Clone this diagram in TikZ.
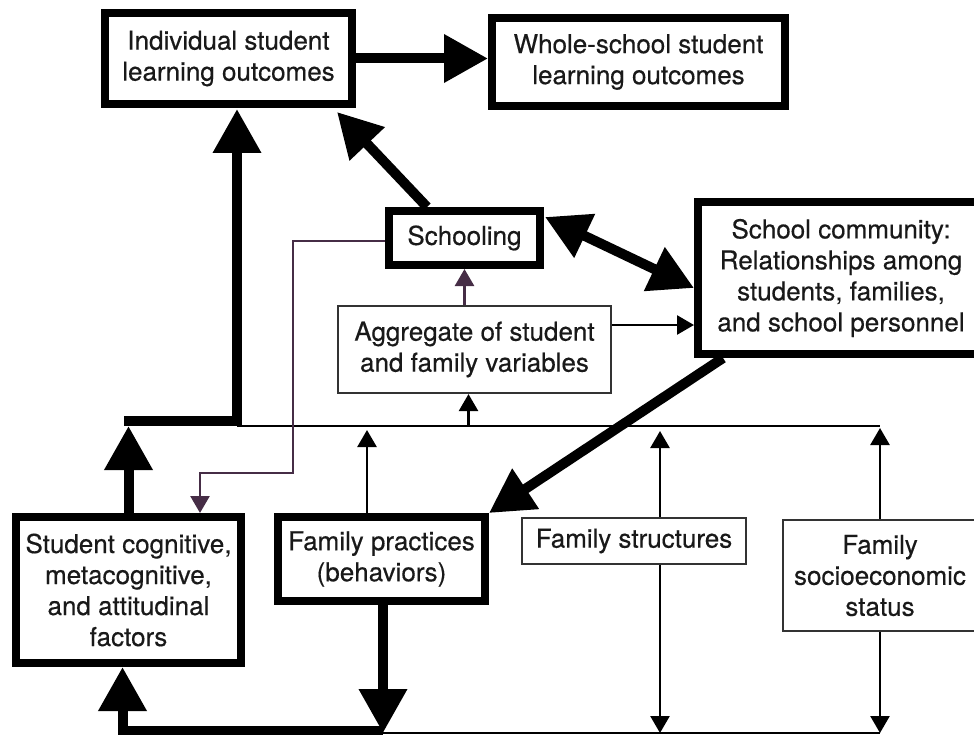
\documentclass[tikz,border=0pt]{standalone}
\usepackage{fontspec}
\setmainfont[FakeBold=0.4]{TeX Gyre Heros}
\usetikzlibrary{arrows.meta,calc}
\definecolor{purp}{RGB}{70,45,70}
\definecolor{txt}{RGB}{25,25,25}
\begin{document}
\begin{tikzpicture}[x=1pt,y=-1pt,
  thickbox/.style={draw=black, line width=8pt, fill=white, align=center, inner sep=0pt, outer sep=4pt, text=txt, font=\fontsize{26}{31}\selectfont},
  thinbox/.style={draw=black!80, line width=2.2pt, fill=white, align=center, inner sep=0pt, outer sep=1.1pt, text=txt, font=\fontsize{26}{31}\selectfont},
  bigarrow/.style={line width=10pt, -{Triangle[length=44pt,width=46pt]}},
  bigdouble/.style={line width=10pt, {Triangle[length=44pt,width=46pt]}-{Triangle[length=44pt,width=46pt]}},
  thinarrow/.style={line width=2.6pt, -{Triangle[length=17pt,width=19pt]}},
  thinline/.style={line width=2.6pt}]
\useasboundingbox (0,0) rectangle (974,735);
% boxes
\node[thickbox, minimum width=247pt, minimum height=91pt] (A) at (228.5,58.5) {Individual student\\learning outcomes};
\node[thickbox, minimum width=293pt, minimum height=88pt] (B) at (638.5,62) {Whole-school student\\learning outcomes};
\node[thickbox, minimum width=151pt, minimum height=54pt] (S) at (464.5,238) {Schooling};
\node[thickbox, minimum width=286pt, minimum height=152pt] (C) at (841,278) {School community:\\Relationships among\\students, families,\\and school personnel};
\node[thinbox, minimum width=273pt, minimum height=87pt] (Ag) at (474.5,349.5) {Aggregate of student\\and family variables};
\node[thickbox, minimum width=225pt, minimum height=146pt] (St) at (128.5,590) {Student cognitive,\\metacognitive,\\and attitudinal\\factors};
\node[thickbox, minimum width=207pt, minimum height=84pt] (FP) at (381.5,559) {Family practices\\(behaviors)};
\node[thinbox, minimum width=224pt, minimum height=46pt] (FS) at (634,541) {Family structures};
\node[thinbox, minimum width=194pt, minimum height=111pt] (SES) at (880,575.5) {Family\\socioeconomic\\status};
% helper coordinates
\coordinate (busL) at (237,426);
\coordinate (busR) at (880,426);
\coordinate (botL) at (383,733);
\coordinate (botR) at (880,733);
\coordinate (tl) at (124,421);
\coordinate (bl) at (122,731);
\coordinate (k1) at (293,473);
\path (A.south) ++(8.5,1) coordinate (aS);
\path (S.north west) ++(42,0) coordinate (sNW);
\path (A.south east) ++(-19,4) coordinate (aSE);
\path (S.north east) ++(1,10) coordinate (sNE);
\path (C.west) ++(0,10) coordinate (cW);
\path (C.south west) ++(29,0) coordinate (cSW);
\path (Ag.south) ++(-6,0) coordinate (agS);
\path (Ag.east) ++(0,-24.5) coordinate (agE);
\path (FP.north) ++(-14.5,0) coordinate (fpN);
\path (FP.south) ++(1.5,0) coordinate (fpS);
\path (FS.north) ++(26,0) coordinate (fsN);
\path (FS.south) ++(26,0) coordinate (fsS);
\path (St.south) ++(-6,0) coordinate (stS);
\path (St.north) ++(71.5,0) coordinate (stN);
\path (S.west) ++(0,3) coordinate (sW);
% connectors
\draw[thinline] (busL) -- (busR);
\draw[thinline] (botL) -- (botR);
\draw[bigarrow] (tl) -| (aS);
\draw[bigarrow] (St.north) -- (St.north |- busL);
\draw[bigarrow] (sNW) -- (aSE);
\draw[bigarrow] (A.east) -- (A.east -| B.west);
\draw[bigdouble] (sNE) -- (cW);
\draw[bigarrow] (cSW) -- (FP.north east);
\draw[thinarrow, purp] (S.south |- Ag.north) -- (S.south);
\draw[thinarrow] (agS |- busL) -- (agS);
\draw[thinarrow] (agE) -- (agE -| C.west);
\draw[thinarrow] (fpN) -- ($(fpN |- busL)+(0,4)$);
\draw[thinarrow] (fsN) -- ($(fsN |- busL)+(0,5)$);
\draw[thinarrow] (fsS) -- (fsS |- botR);
\draw[thinarrow] (SES.north) -- ($(SES.north |- busL)+(0,2)$);
\draw[thinarrow] (SES.south) -- (SES.south |- botR);
\draw[bigarrow] (fpS) -- (fpS |- botL);
\draw[bigarrow] (fpS |- bl) -| (stS);
\draw[thinarrow, purp] (sW) -| (k1) -| (stN);
\end{tikzpicture}
\end{document}
